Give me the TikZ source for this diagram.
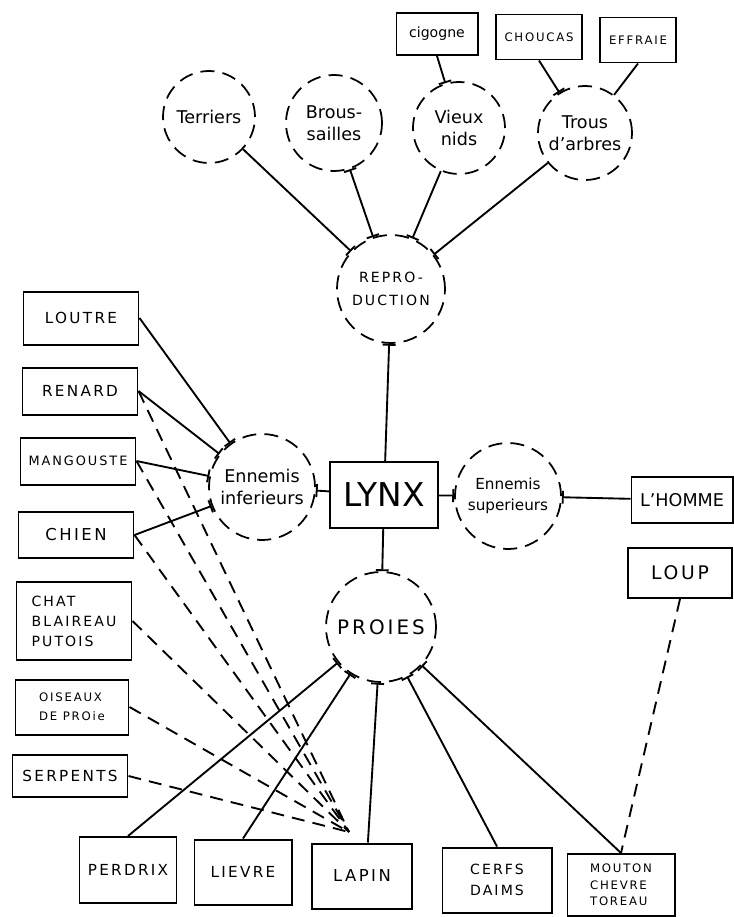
\documentclass[tikz,border=0pt]{standalone}
\usepackage{fontspec}
\setmainfont{DejaVu Sans}
\newfontfamily\lettrage[LetterSpace=15]{DejaVu Sans}
\usetikzlibrary{arrows.meta}
\tikzset{
  boite/.style={draw,line width=1.7pt,rectangle,align=center,inner sep=1pt,
    font=\lettrage\fontsize{13}{17}\selectfont},
  bulle/.style={draw,line width=1.5pt,dash pattern=on 12pt off 7pt,circle,
    align=center,inner sep=0pt,font=\fontsize{15}{19}\selectfont},
  trait/.style={line width=1.6pt},
  tirets/.style={line width=1.6pt,dash pattern=on 11pt off 7pt},
  barre/.style={-{Bar[width=11pt]}},
  barre0/.style={{Bar[width=11pt]}-},
  barres/.style={{Bar[width=11pt]}-{Bar[width=11pt]}}
}
\begin{document}
\begin{tikzpicture}[x=0.03cm,y=-0.03cm] % ------ Le lynx et son milieu ----------------
    \useasboundingbox (0,0) rectangle (734,917);
    % reproduction
    \node [boite,minimum width=2.43cm,minimum height=1.26cm,font=\fontsize{12}{14}\selectfont] (cigogne) at (437,34) {cigogne};
    \node [boite,minimum width=2.58cm,minimum height=1.35cm,font=\lettrage\fontsize{10}{12}\selectfont] (choucas) at (539,37) {CHOUCAS};
    \node [boite,minimum width=2.28cm,minimum height=1.35cm,font=\lettrage\fontsize{10}{12}\selectfont] (effraie) at (638,40) {EFFRAIE};
    \node [bulle,minimum size=2.76cm] (terriers) at (209,117) {Terriers};
    \node [bulle,minimum size=2.88cm] (brous) at (334,123) {Brous-\\sailles};
    \node [bulle,minimum size=2.76cm] (vnids) at (459,128) {Vieux\\nids};
    \node [bulle,minimum size=2.82cm] (trous) at (585,133) {Trous\\d'arbres};
    \node [bulle,minimum size=3.24cm,font=\lettrage\fontsize{12}{19}\selectfont] (repro) at (391,289) {REPRO-\\DUCTION};
    % centre
    \node [boite,minimum width=3.24cm,minimum height=1.98cm,font=\fontsize{28}{30}\selectfont] (lynx) at (384,495) {LYNX};
    \node [bulle,minimum size=3.18cm] (einf) at (262,487) {Ennemis\\inferieurs};
    \node [bulle,minimum size=3.18cm,font=\fontsize{13}{18}\selectfont] (esup) at (508,496) {Ennemis\\superieurs};
    \node [boite,minimum width=3.03cm,minimum height=1.38cm,font=\fontsize{15}{17}\selectfont] (homme) at (682,500) {L'HOMME};
    \node [boite,minimum width=3.12cm,minimum height=1.5cm,font=\lettrage\fontsize{16}{18}\selectfont] (loup) at (680,573) {LOUP};
    \node [bulle,minimum size=3.3cm,font=\lettrage\fontsize{17}{19}\selectfont] (proies) at (381,627) {PROIES};
    % ennemis
    \node [boite,minimum width=3.45cm,minimum height=1.59cm] (loutre) at (81,318) {LOUTRE};
    \node [boite,minimum width=3.45cm,minimum height=1.41cm] (renard) at (80,391) {RENARD};
    \node [boite,minimum width=3.45cm,minimum height=1.41cm,font=\lettrage\fontsize{11}{13}\selectfont] (mangouste) at (78,461) {MANGOUSTE};
    \node [boite,minimum width=3.45cm,minimum height=1.38cm,font=\lettrage\fontsize{14}{16}\selectfont] (chien) at (76,535) {CHIEN};
    \node [boite,minimum width=3.45cm,minimum height=2.34cm,align=left,font=\lettrage\fontsize{12}{17}\selectfont] (chat) at (74,621) {CHAT\\BLAIREAU\\PUTOIS};
    \node [boite,minimum width=3.39cm,minimum height=1.65cm,align=left,font=\lettrage\fontsize{10}{16}\selectfont] (oiseaux) at (72,707) {OISEAUX\\DE PROie};
    \node [boite,minimum width=3.45cm,minimum height=1.26cm] (serpents) at (70,776) {SERPENTS};
    \coordinate (foyer) at (349,832);
    % proies
    \node [boite,minimum width=2.91cm,minimum height=1.98cm] (perdrix) at (128,870) {PERDRIX};
    \node [boite,minimum width=2.91cm,minimum height=1.95cm] (lievre) at (243,872) {LIEVRE};
    \node [boite,minimum width=3.0cm,minimum height=1.95cm,font=\lettrage\fontsize{14}{16}\selectfont] (lapin) at (362,876) {LAPIN};
    \node [boite,minimum width=3.27cm,minimum height=1.95cm,font=\lettrage\fontsize{12}{18}\selectfont] (cerfs) at (497,880) {CERFS\\DAIMS};
    \node [boite,minimum width=3.21cm,minimum height=1.86cm,align=left,font=\lettrage\fontsize{10}{14}\selectfont] (mouton) at (621,885) {MOUTON\\CHEVRE\\TOREAU};
    % liens
    \draw [trait,barre] (cigogne.south) -- (vnids);
    \draw [trait,barre] (choucas.south) -- (trous);
    \draw [trait] (effraie.south) -- (trous);
    \draw [trait,barre] (terriers) -- (repro);
    \draw [trait,barres] (brous) -- (repro);
    \draw [trait,barre] (vnids) -- (repro);
    \draw [trait,barre] (trous) -- (repro);
    \draw [trait,barre0] (repro) -- (lynx);
    \draw [trait,barre] (lynx) -- (einf);
    \draw [trait,barre] (lynx) -- (esup);
    \draw [trait,barre0] (esup) -- (homme);
    \draw [trait,barre] (lynx) -- (proies);
    \foreach \e in {loutre,renard,mangouste,chien}
      \draw [trait,barre] (\e.east) -- (einf);
    \foreach \e in {renard,mangouste,chien,chat,oiseaux,serpents}
      \draw [tirets] (\e.east) -- (foyer);
    \draw [trait,barre0] (proies) -- (perdrix.north);
    \draw [trait,barre0] (proies) -- (lievre.north);
    \draw [trait,barre0] (proies) -- (lapin.80);
    \draw [trait,barre0] (proies) -- (cerfs.north);
    \draw [trait,barre0] (proies) -- (mouton.north);
    \draw [tirets] (loup.south) -- (mouton.north);
\end{tikzpicture}
\end{document}
